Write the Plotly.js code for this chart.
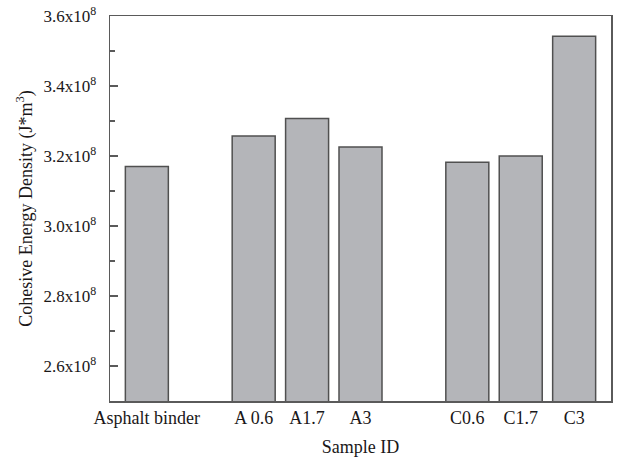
<!DOCTYPE html>
<html>
<head>
<meta charset="utf-8">
<script src="https://cdn.plot.ly/plotly-3.0.1.min.js"></script>
<style>html,body{margin:0;padding:0;background:#fff;}#chart{width:628px;height:457px;}</style>
</head>
<body>
<div id="chart"></div>
<script>
// Data
var categories = ["Asphalt binder", "A 0.6", "A1.7", "A3", "C0.6", "C1.7", "C3"];
var slotPositions = [0, 2, 3, 4, 6, 7, 8];
var cedValues = [3.170e8, 3.257e8, 3.307e8, 3.226e8, 3.182e8, 3.200e8, 3.542e8];
var yTickValues = [2.6e8, 2.8e8, 3.0e8, 3.2e8, 3.4e8, 3.6e8];
var yTickLabels = ["2.6x10<sup>8</sup>", "2.8x10<sup>8</sup>", "3.0x10<sup>8</sup>",
                   "3.2x10<sup>8</sup>", "3.4x10<sup>8</sup>", "3.6x10<sup>8</sup>"];

var font = "Liberation Serif, Times New Roman, serif";
var axisColor = "#5a5a5a";
var textColor = "#1a1718";

var trace = {
  type: "bar",
  x: slotPositions,
  y: cedValues,
  width: 0.805,
  marker: { color: "#b4b5b9", line: { color: "#505050", width: 1.5 } },
  hoverinfo: "skip"
};

var layout = {
  width: 628, height: 457,
  margin: { l: 110, r: 17, t: 16, b: 56 },
  paper_bgcolor: "#fff", plot_bgcolor: "#fff",
  showlegend: false,
  font: { family: font, size: 17, color: textColor },
  xaxis: {
    range: [-0.69, 8.69],
    tickvals: slotPositions,
    ticktext: categories,
    ticks: "",
    showgrid: false, zeroline: false,
    showline: true, linecolor: axisColor, linewidth: 1.5, mirror: true,
    tickfont: { family: font, size: 18, color: textColor },
    title: { text: "Sample ID", font: { family: font, size: 18, color: textColor }, standoff: 16 }
  },
  yaxis: {
    range: [2.5e8, 3.6e8],
    tickvals: yTickValues,
    ticktext: yTickLabels,
    ticks: "inside", ticklen: 8, tickwidth: 1.2, tickcolor: axisColor,
    ticklabelstandoff: 9,
    minor: { dtick: 0.2e8, tick0: 2.5e8, ticks: "inside", ticklen: 5, tickwidth: 1.2, tickcolor: axisColor, showgrid: false },
    showgrid: false, zeroline: false,
    showline: true, linecolor: axisColor, linewidth: 1.5, mirror: true,
    tickfont: { family: font, size: 17, color: textColor },
    title: { text: "Cohesive Energy Density (J*m<sup>3</sup>)", font: { family: font, size: 18, color: textColor }, standoff: 6 }
  }
};

Plotly.newPlot("chart", [trace], layout, { displayModeBar: false, staticPlot: true });
</script>
</body>
</html>
